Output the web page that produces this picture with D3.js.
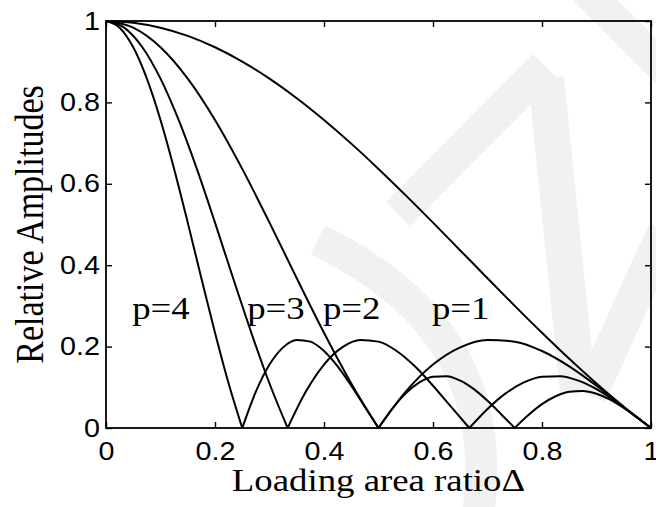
<!DOCTYPE html>
<html><head><meta charset="utf-8">
<script src="https://cdn.jsdelivr.net/npm/d3@7"></script>
<style>body{margin:0;background:#fff} svg{display:block}</style>
</head><body><svg id="c" width="656" height="507"></svg>
<script>
// ---- data ----
const xTicks = [0, 0.2, 0.4, 0.6, 0.8, 1];
const yTicks = [0, 0.2, 0.4, 0.6, 0.8, 1];
const xTickLabels = ["0", "0.2", "0.4", "0.6", "0.8", "1"];
const yTickLabels = ["0", "0.2", "0.4", "0.6", "0.8", "1"];

const delta20 = [0,0.05,0.1,0.15,0.2,0.25,0.3,0.35,0.4,0.45,0.5,0.55,0.6,0.65,0.7,0.75,0.8,0.85,0.9,0.95,1];
const delta30 = [0,0.0333,0.0667,0.1,0.1333,0.1667,0.2,0.2333,0.2667,0.3,0.3333,0.3667,0.4,0.4333,0.4667,0.5,0.5333,0.5667,0.6,0.6333,0.6667,0.7,0.7333,0.7667,0.8,0.8333,0.8667,0.9,0.9333,0.9667,1];
const delta40 = [0,0.025,0.05,0.075,0.1,0.125,0.15,0.175,0.2,0.225,0.25,0.275,0.3,0.325,0.35,0.375,0.4,0.425,0.45,0.475,0.5,0.525,0.55,0.575,0.6,0.625,0.65,0.675,0.7,0.725,0.75,0.775,0.8,0.825,0.85,0.875,0.9,0.925,0.95,0.975,1];

const ampP1 = [1,0.9959,0.9836,0.9634,0.9355,0.9003,0.8584,0.8103,0.7568,0.6987,0.6366,0.5716,0.5046,0.4363,0.3679,0.3001,0.2339,0.1700,0.1093,0.0524,0];
const ampP2 = [1,0.9836,0.9355,0.8584,0.7568,0.6366,0.5046,0.3679,0.2339,0.1093,0,0.0894,0.1559,0.1981,0.2162,0.2122,0.1892,0.1515,0.1039,0.0518,0];
const ampP3 = [1,0.9836,0.9355,0.8584,0.7568,0.6366,0.5046,0.3679,0.2339,0.1093,0,0.0894,0.1559,0.1981,0.2162,0.2122,0.1892,0.1515,0.1039,0.0518,0,0.0468,0.0850,0.1120,0.1261,0.1273,0.1164,0.0954,0.0668,0.0339,0];
const ampP4 = [1,0.9836,0.9355,0.8584,0.7568,0.6366,0.5046,0.3679,0.2339,0.1093,0,0.0894,0.1559,0.1981,0.2162,0.2122,0.1892,0.1515,0.1039,0.0518,0,0.0468,0.0850,0.1120,0.1261,0.1273,0.1164,0.0954,0.0668,0.0339,0,0.0317,0.0585,0.0780,0.0890,0.0910,0.0841,0.0696,0.0492,0.0252,0];

const curveNames = ["p=4", "p=3", "p=2", "p=1"];
const labelDelta = [0.048, 0.259, 0.398, 0.598];
const labelAmp = 0.268;

// ---- layout ----
const W = 656, H = 507;
const L = 106, R = 651, T = 21, B = 428;
const STRETCH = 1.15;
const svg = d3.select("#c");

const x = d3.scaleLinear().domain([0, 1]).range([L, R]);
const y = d3.scaleLinear().domain([0, 1]).range([B, T]);

// watermark (faint background shapes)
const wm = svg.append("g").attr("fill", "none").attr("stroke", "#f1f1f1").attr("stroke-linecap", "butt");
wm.append("path").attr("d", "M585,-10 L670,75").attr("stroke-width", 32);
wm.append("path").attr("d", "M398,214 L545,66").attr("stroke-width", 34);
wm.append("path").attr("d", "M546,78 L578,392").attr("stroke-width", 36);
wm.append("path").attr("d", "M590,395 L665,230").attr("stroke-width", 34);
wm.append("path").attr("d", "M318,240 Q505,330 478,515").attr("stroke-width", 32);

// axes ticks (inward)
const tickLen = 6;
const gx = svg.append("g").attr("transform", `translate(0,${B})`)
  .call(d3.axisBottom(x).tickValues(xTicks).tickSizeInner(-tickLen).tickSizeOuter(0)
    .tickPadding(14).tickFormat((d, i) => xTickLabels[i]));
const gy = svg.append("g").attr("transform", `translate(${L},0)`)
  .call(d3.axisLeft(y).tickValues(yTicks).tickSizeInner(-tickLen).tickSizeOuter(0)
    .tickPadding(6).tickFormat((d, i) => yTickLabels[i]));
const gt = svg.append("g").attr("transform", `translate(0,${T})`)
  .call(d3.axisTop(x).tickValues(xTicks).tickSizeInner(-tickLen).tickSizeOuter(0).tickFormat(""));
const gr = svg.append("g").attr("transform", `translate(${R},0)`)
  .call(d3.axisRight(y).tickValues(yTicks).tickSizeInner(-tickLen).tickSizeOuter(0).tickFormat(""));

[gx, gy, gt, gr].forEach(g => {
  g.select(".domain").remove();
  g.selectAll("line").attr("stroke", "#000").attr("stroke-width", 1.4);
  g.selectAll("text").attr("font-family", "'Liberation Sans', Arial, sans-serif")
    .attr("font-size", 25).attr("fill", "#000");
});
gx.selectAll("text").attr("transform", `scale(${STRETCH},1)`);
gy.selectAll("text").attr("transform", `scale(${STRETCH},1)`).attr("x", -6 / STRETCH);

// curves
const line = d3.line().x(d => x(d[0])).y(d => y(d[1])).curve(d3.curveMonotoneX);
const series = [[delta40, ampP4], [delta30, ampP3], [delta20, ampP2], [delta20, ampP1]];
const gc = svg.append("g").attr("fill", "none").attr("stroke", "#000")
  .attr("stroke-width", 2).attr("stroke-linejoin", "round");
series.forEach(([xs, ys]) => {
  let seg = [];
  xs.forEach((d, i) => {
    seg.push([d, ys[i]]);
    if (ys[i] === 0 && i > 0) {
      gc.append("path").attr("d", line(seg));
      seg = [[d, ys[i]]];
    }
  });
  if (seg.length > 1) gc.append("path").attr("d", line(seg));
});

// box
svg.append("rect").attr("x", L).attr("y", T).attr("width", R - L).attr("height", B - T)
  .attr("fill", "none").attr("stroke", "#000").attr("stroke-width", 1.8);

// curve labels
curveNames.forEach((t, i) => {
  svg.append("text")
    .attr("transform", `translate(${x(labelDelta[i])},${y(labelAmp)}) scale(${STRETCH},1)`)
    .attr("font-family", "'Liberation Serif', 'Times New Roman', serif")
    .attr("font-size", 32).attr("fill", "#000").text(t);
});

// axis titles
svg.append("text")
  .attr("transform", `translate(${(L + R) / 2},491) scale(${STRETCH},1)`)
  .attr("text-anchor", "middle")
  .attr("font-family", "'Liberation Serif', 'Times New Roman', serif")
  .attr("font-size", 32).attr("fill", "#000").text("Loading area ratioΔ");
svg.append("text")
  .attr("transform", `translate(43,${(T + B) / 2}) scale(${STRETCH},1) rotate(-90)`)
  .attr("text-anchor", "middle")
  .attr("font-family", "'Liberation Serif', 'Times New Roman', serif")
  .attr("font-size", 34).attr("fill", "#000").text("Relative Amplitudes");
</script>
</body></html>
